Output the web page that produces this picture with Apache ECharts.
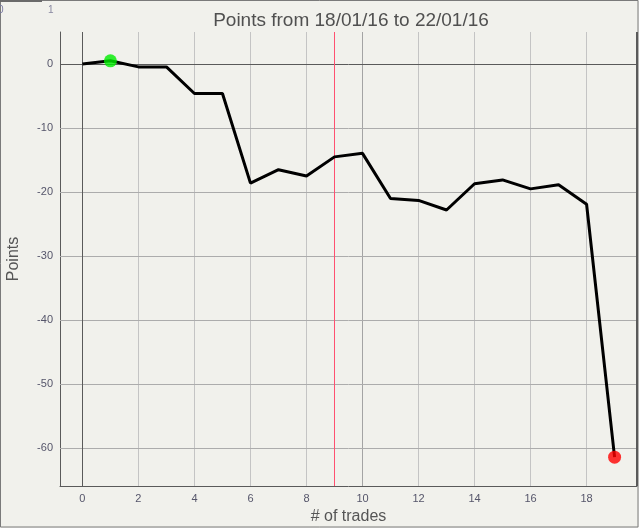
<!DOCTYPE html>
<html>
<head>
<meta charset="utf-8">
<style>
html,body{margin:0;padding:0;background:#f1f1ec;}
#chart{width:639px;height:528px;}
</style>
<script src="https://cdn.jsdelivr.net/npm/echarts@6/dist/echarts.min.js"></script>
</head>
<body>
<div id="chart"></div>
<script>
// ---- data ----
var trades = [0,1,2,3,4,5,6,7,8,9,10,11,12,13,14,15,16,17,18,19];
var points = [0,0.5,-0.45,-0.45,-4.6,-4.6,-18.6,-16.5,-17.5,-14.5,-13.95,-21.0,-21.3,-22.8,-18.7,-18.1,-19.5,-18.85,-21.9,-61.4];
var xTicks = [0,2,4,6,8,10,12,14,16,18];
var yTicks = [-60,-50,-40,-30,-20,-10,0];
var bestIndex = 1;
var lastIndex = 19;
var markerTrade = 9;
var titleText = 'Points from 18/01/16 to 22/01/16';

var lineData = trades.map(function(t,i){return [t, points[i]];});
var xGrid = xTicks.filter(function(v){return v !== 0;}).map(function(v){
  return {xAxis: v, lineStyle:{color: v === 10 ? '#a4a4a4' : '#c4c4c4', width:1, type:'solid'}};
});
var yGrid = yTicks.filter(function(v){return v !== 0;}).map(function(v){
  return {yAxis: v, lineStyle:{color:'#acacac', width:1, type:'solid'}};
});
var zeroLines = [
  {xAxis:0, lineStyle:{color:'#5a5a5a', width:1, type:'solid'}},
  {yAxis:0, lineStyle:{color:'#5a5a5a', width:1, type:'solid'}},
  {xAxis:markerTrade, lineStyle:{color:'#ff5070', width:1, type:'solid'}}
];

var chart = echarts.init(document.getElementById('chart'), null, {renderer:'canvas'});
var labelFont = {fontFamily:'Liberation Sans, Arial, sans-serif', fontSize:11, color:'#55556a'};
chart.setOption({
  backgroundColor:'#f1f1ec',
  animation:false,
  title:{
    text:titleText, left:346, top:6, textAlign:'center',
    textStyle:{fontFamily:'Liberation Sans, Arial, sans-serif', fontSize:19, fontWeight:'normal', color:'#505050'}
  },
  grid:{left:60, right:2, top:32, bottom:42, containLabel:false, outerBoundsMode:'none'},
  xAxis:{
    type:'value', min:-0.8, max:19.8,
    name:'# of trades', nameLocation:'middle', nameGap:23,
    nameTextStyle:{fontFamily:'Liberation Sans, Arial, sans-serif', fontSize:16, color:'#555'},
    axisLine:{show:true, onZero:false, lineStyle:{color:'#5a5a5a', width:1}},
    axisTick:{show:false},
    splitLine:{show:false},
    axisLabel:Object.assign({customValues:xTicks, margin:7, showMinLabel:true, showMaxLabel:true}, labelFont)
  },
  yAxis:{
    type:'value', min:-65.9, max:5,
    name:'Points', nameLocation:'middle', nameGap:38,
    nameTextStyle:{fontFamily:'Liberation Sans, Arial, sans-serif', fontSize:16, color:'#555'},
    axisLine:{show:true, onZero:false, lineStyle:{color:'#5a5a5a', width:1}},
    axisTick:{show:false},
    splitLine:{show:false},
    axisLabel:Object.assign({customValues:yTicks, margin:7}, labelFont)
  },
  graphic:[
    {type:'rect', shape:{x:0.5, y:0.5, width:637.5, height:526.5}, style:{fill:null, stroke:'#7a7a7a', lineWidth:1}, silent:true, z:100},
    {type:'rect', shape:{x:0, y:0, width:42, height:2}, style:{fill:'#6a6a6a'}, silent:true, z:101},
    {type:'line', shape:{x1:637, y1:32, x2:637, y2:486}, style:{stroke:'#5a5a5a', lineWidth:2}, silent:true, z:100},
    {type:'text', x:-2, y:5, style:{text:'0', fontSize:10, fill:'#7878a0', fontFamily:'Liberation Sans, Arial, sans-serif'}, silent:true, z:102},
    {type:'text', x:48, y:5, style:{text:'1', fontSize:10, fill:'#8888a0', fontFamily:'Liberation Sans, Arial, sans-serif'}, silent:true, z:102}
  ],
  series:[
    {
      type:'line', data:lineData, symbol:'none', z:5,
      lineStyle:{color:'#000', width:3},
      markLine:{silent:true, symbol:['none','none'], label:{show:false}, animation:false,
        data: xGrid.concat(yGrid).concat(zeroLines), z:1}
    },
    {
      type:'scatter', z:10, symbolSize:13,
      data:[
        {value:[trades[bestIndex], points[bestIndex]], itemStyle:{color:'#00ee00'}},
        {value:[trades[lastIndex], points[lastIndex]], itemStyle:{color:'#ff0000'}}
      ]
    }
  ]
});
</script>
</body>
</html>
